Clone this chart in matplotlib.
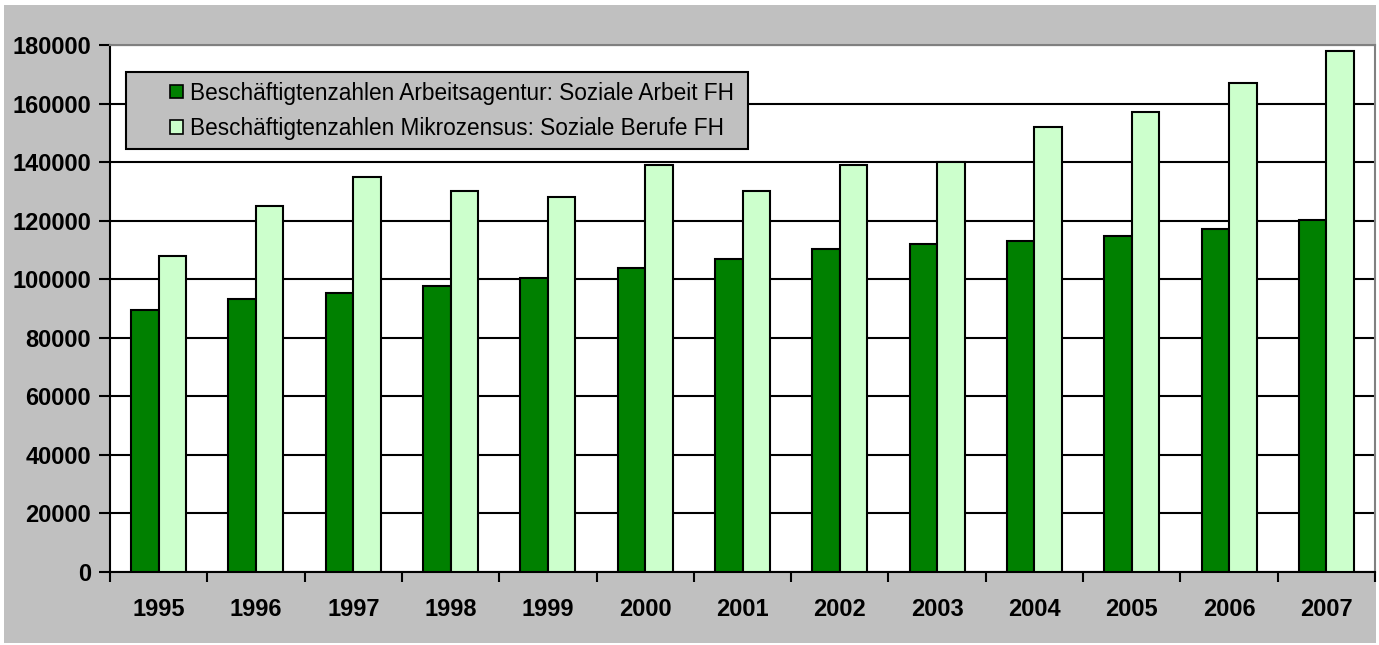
import matplotlib
matplotlib.use("Agg")
import matplotlib.pyplot as plt
import numpy as np
from matplotlib.patches import Patch, Rectangle
from matplotlib.legend_handler import HandlerPatch

years = ["1995", "1996", "1997", "1998", "1999", "2000", "2001",
         "2002", "2003", "2004", "2005", "2006", "2007"]
arbeitsagentur = [89500, 93100, 95400, 97800, 100500, 103800, 106800,
                  110200, 112000, 113000, 114600, 117100, 120200]
mikrozensus = [108000, 125000, 135000, 130000, 128000, 139000, 130000,
               139000, 140000, 152000, 157000, 167000, 178000]
series_labels = ["Beschäftigtenzahlen Arbeitsagentur: Soziale Arbeit FH",
                 "Beschäftigtenzahlen Mikrozensus: Soziale Berufe FH"]

plt.rcParams['font.family'] = ['Liberation Sans', 'DejaVu Sans']

fig = plt.figure(figsize=(13.79, 6.45), dpi=100, facecolor='white')
# grey chart area with thin white margin
fig.patches.append(Rectangle((4 / 1379, 2 / 645), 1372 / 1379, 638 / 645,
                             transform=fig.transFigure, facecolor='#C0C0C0',
                             edgecolor='none', zorder=-1))

ax = fig.add_axes([110 / 1379, 73 / 645, 1265 / 1379, 527 / 645])
ax.set_zorder(2)
ax.set_facecolor('white')

x = np.arange(len(years))
w = 0.283
ax.bar(x - w / 2, arbeitsagentur, w, color='#008000', edgecolor='black',
       linewidth=1.5, zorder=3)
ax.bar(x + w / 2, mikrozensus, w, color='#CCFFCC', edgecolor='black',
       linewidth=1.5, zorder=3)

ax.set_xlim(-0.5, len(years) - 0.5)
ax.set_ylim(0, 180000)
ax.set_yticks(np.arange(0, 180001, 20000))
ax.set_yticklabels([str(v) for v in range(0, 180001, 20000)],
                   fontsize=17, fontweight='bold')
ax.yaxis.grid(True, color='black', linewidth=1.5, zorder=0)
ax.set_axisbelow(True)

ax.set_xticks(x)
ax.set_xticklabels(years, fontsize=17, fontweight='bold')
ax.tick_params(axis='x', which='major', length=0, pad=19)
ax.set_xticks(np.arange(-0.5, len(years)), minor=True)
ax.tick_params(axis='x', which='minor', length=7, width=1.5, color='black',
               direction='out')
ax.tick_params(axis='y', length=8, width=1.5, direction='out', pad=5.5)

for side in ['left', 'bottom']:
    ax.spines[side].set_color('black')
    ax.spines[side].set_linewidth(1.5)
for side in ['top', 'right']:
    ax.spines[side].set_color('#808080')
    ax.spines[side].set_linewidth(1.5)


def square_at_right(legend, orig_handle, xdescent, ydescent, width, height, fontsize):
    # small square marker pushed to the right end of the handle box
    sq = 0.58 * fontsize
    return Rectangle((width - sq - xdescent, (height - sq) / 2 - ydescent), sq, sq)


handles = [Patch(facecolor='#008000', edgecolor='black', linewidth=1.2),
           Patch(facecolor='#CCFFCC', edgecolor='black', linewidth=1.2)]
leg = ax.legend(handles, series_labels, loc='upper left',
                bbox_to_anchor=(16 / 1265, (572 - 150) / 527, 622 / 1265, 78 / 527),
                mode='expand', borderaxespad=0, fontsize=16.3, fancybox=False,
                frameon=True, handlelength=2.1, handleheight=0.7,
                handletextpad=0.3, labelspacing=0.55, borderpad=0.42,
                handler_map={Patch: HandlerPatch(patch_func=square_at_right)})
leg.get_frame().set_facecolor('#C0C0C0')
leg.get_frame().set_edgecolor('black')
leg.get_frame().set_linewidth(1.5)
leg.get_frame().set_alpha(1)
leg.set_zorder(5)

fig.savefig('out.png', dpi=100, facecolor=fig.get_facecolor())
